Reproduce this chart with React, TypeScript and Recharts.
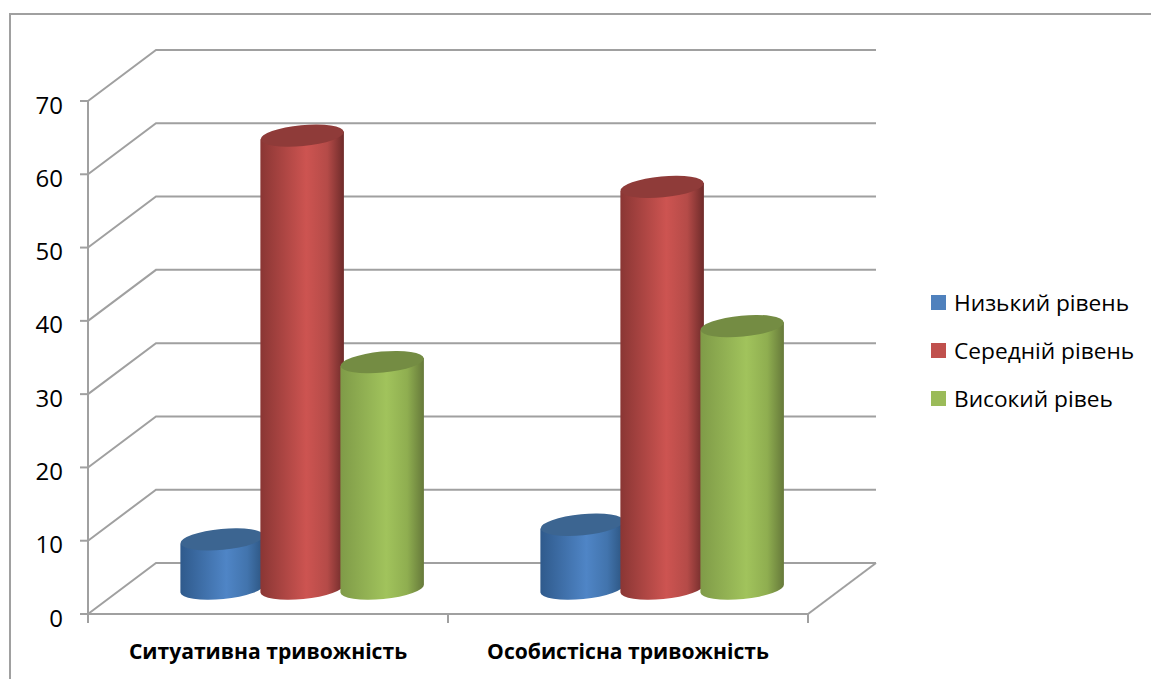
import React from "react";
import { BarChart, Bar, XAxis, YAxis, CartesianGrid, Legend } from "recharts";

const categories = ["Ситуативна тривожність", "Особистісна тривожність"];
const lowLevel = [6.7, 8.7];
const midLevel = [61.8, 54.8];
const highLevel = [30.9, 35.8];
const yTicks = [0, 10, 20, 30, 40, 50, 60, 70];

const seriesNames = { low: "Низький рівень", mid: "Середній рівень", high: "Високий рівеь" };

const rows = categories.map((name, i) => ({
  name,
  low: lowLevel[i],
  mid: midLevel[i],
  high: highLevel[i],
}));

// Colours of each cylinder: side gradient stops and the darker top cap.
const palette: Record<string, { edgeL: string; mid: string; shade: string; edgeR: string; cap: string; key: string }> = {
  low: { key: "#4f81bd", edgeL: "#2f5a8c", mid: "#4f85c6", shade: "#4274ad", edgeR: "#2c5480", cap: "#3c6591" },
  mid: { key: "#c0504d", edgeL: "#8a3634", mid: "#cd5451", shade: "#b54b48", edgeR: "#6e2b2a", cap: "#8f3b39" },
  high: { key: "#9bbb59", edgeL: "#7f9b48", mid: "#a1c35c", shade: "#8fae50", edgeR: "#66793a", cap: "#748c43" },
};

// Pseudo-3D offset between the front plane (axes) and the back wall.
const WALL_DX = 68;
const WALL_DY = -51;
const GRID = "#a0a0a0";
const FONT = "'Open Sans', 'Noto Sans', sans-serif";

function gridLine(props: any) {
  const { x1, x2, y1, key } = props;
  const bx = x1 + WALL_DX;
  const by = y1 + WALL_DY;
  const isFloor = props.index === 0;
  return (
    <g key={key}>
      <polyline points={`${x1},${y1} ${bx},${by} ${x2 + WALL_DX},${by}`} fill="none" stroke={GRID} strokeWidth={2} />
      {isFloor ? <polyline points={`${x2},${y1} ${x2 + WALL_DX},${by}`} fill="none" stroke={GRID} strokeWidth={2} /> : null}
    </g>
  );
}

function makeCylinder(seriesKey: string) {
  const c = palette[seriesKey];
  const gid = `side-${seriesKey}`;
  return function Cylinder(props: any) {
    const { x, y, width, height } = props;
    const dx = WALL_DX / 2;
    const dy = -25.5;
    const left = x + dx - 1;
    const w = width + 3.5;
    const right = left + w;
    const cx = left + w / 2;
    const top = y + dy;
    const base = y + height + dy;
    const tilt = 4;
    const rx = w / 2;
    const ry = 10.5;
    const angle = -5.4;
    return (
      <g>
        <defs>
          <linearGradient id={gid} x1="0" x2="1" y1="0" y2="0">
            <stop offset="0" stopColor={c.edgeL} />
            <stop offset="0.55" stopColor={c.mid} />
            <stop offset="0.8" stopColor={c.shade} />
            <stop offset="1" stopColor={c.edgeR} />
          </linearGradient>
        </defs>
        <path
          d={`M${left},${top + tilt} L${left},${base + tilt} A${rx} ${ry} ${angle} 0 0 ${right},${base - tilt} L${right},${top - tilt} Z`}
          fill={`url(#${gid})`}
        />
        <ellipse cx={cx} cy={top} rx={rx} ry={ry} fill={c.cap} transform={`rotate(${angle} ${cx} ${top})`} />
      </g>
    );
  };
}

function CategoryTick(props: any) {
  const { x, y, payload, width, visibleTicksCount } = props;
  const half = width / visibleTicksCount / 2;
  return (
    <g>
      <line x1={x - half} x2={x - half} y1={y - 8} y2={y + 1} stroke={GRID} strokeWidth={2} />
      <line x1={x + half} x2={x + half} y1={y - 8} y2={y + 1} stroke={GRID} strokeWidth={2} />
      <text x={x} y={y + 37} textAnchor="middle" fontFamily={FONT} fontSize={21.1} fontWeight={700} fill="#000">
        {payload.value}
      </text>
    </g>
  );
}

function ValueTick(props: any) {
  const { x, y, payload } = props;
  return (
    <text x={x - 15} y={y + 12.5} textAnchor="end" fontFamily={FONT} fontSize={24} fill="#000">
      {payload.value}
    </text>
  );
}

function LegendBlock({ payload }: any) {
  return (
    <div style={{ fontFamily: FONT, fontSize: 22.7, color: "#000" }}>
      {payload.map((item: any) => (
        <div key={item.value} style={{ display: "flex", alignItems: "center", height: 48 }}>
          <span style={{ width: 15, height: 15, background: item.color, marginRight: 8 }} />
          <span style={{ whiteSpace: "nowrap" }}>{item.value}</span>
        </div>
      ))}
    </div>
  );
}

export default function App() {
  return (
    <div style={{ position: "absolute", left: 0, top: 0, width: 1151, height: 679, background: "#fff", overflow: "hidden" }}>
      <div
        style={{
          position: "absolute",
          left: 9,
          top: 13,
          right: -4,
          bottom: -4,
          borderLeft: `2px solid ${GRID}`,
          borderTop: `2px solid ${GRID}`,
        }}
      />
      <BarChart
        width={1151}
        height={679}
        data={rows}
        margin={{ top: 101, right: 343, left: 28, bottom: 15 }}
        barCategoryGap="16.5%"
        barGap={0}
        style={{ position: "absolute", left: 0, top: 0 }}
      >
        <CartesianGrid vertical={false} horizontal={gridLine} />
        <XAxis
          dataKey="name"
          height={50}
          axisLine={{ stroke: GRID, strokeWidth: 2 }}
          tickLine={false}
          tick={CategoryTick}
          interval={0}
        />
        <YAxis
          width={60}
          domain={[0, 70]}
          ticks={yTicks}
          axisLine={{ stroke: GRID, strokeWidth: 2 }}
          tickLine={{ stroke: GRID, strokeWidth: 2 }}
          tickSize={8}
          tick={ValueTick}
          interval={0}
        />
        <Legend
          layout="horizontal"
          align="center"
          verticalAlign="middle"
          itemSorter={null}
          content={LegendBlock}
          wrapperStyle={{ position: "absolute", left: 931, top: 278, width: 215 }}
        />
        <Bar dataKey="low" name={seriesNames.low} fill={palette.low.key} shape={makeCylinder("low")} isAnimationActive={false} />
        <Bar dataKey="mid" name={seriesNames.mid} fill={palette.mid.key} shape={makeCylinder("mid")} isAnimationActive={false} />
        <Bar dataKey="high" name={seriesNames.high} fill={palette.high.key} shape={makeCylinder("high")} isAnimationActive={false} />
      </BarChart>
    </div>
  );
}
